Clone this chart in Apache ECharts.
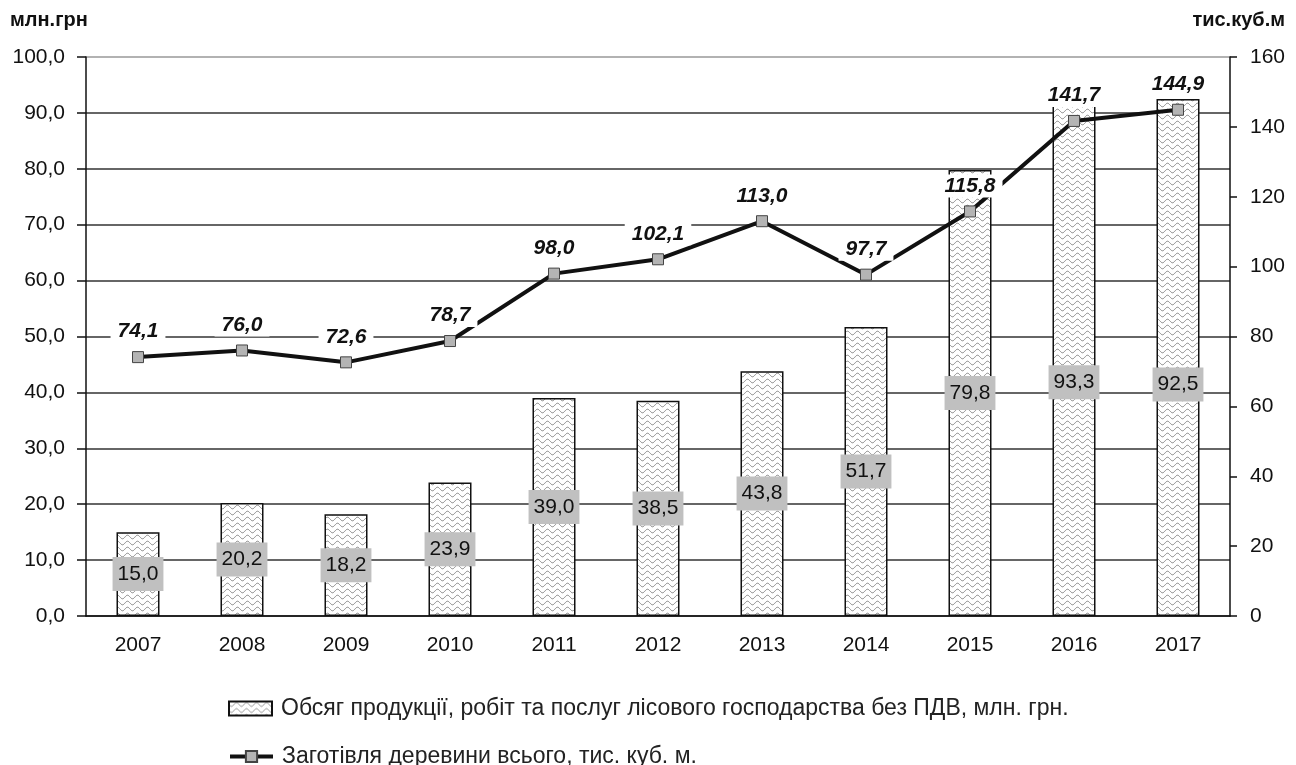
<!DOCTYPE html>
<html>
<head>
<meta charset="utf-8">
<title>Обсяг продукції та заготівля деревини</title>
<script src="https://cdn.jsdelivr.net/npm/echarts@6/dist/echarts.min.js"></script>
<style>
  html, body { margin: 0; padding: 0; background: #fff; }
  #chart { width: 1296px; height: 765px; }
</style>
</head>
<body>
<div id="chart"></div>
<script>
// роки
const years = ['2007', '2008', '2009', '2010', '2011', '2012', '2013', '2014', '2015', '2016', '2017'];
// обсяг продукції, млн. грн
const volume = [15.0, 20.2, 18.2, 23.9, 39.0, 38.5, 43.8, 51.7, 79.8, 93.3, 92.5];
// заготівля деревини, тис. куб. м
const timber = [74.1, 76.0, 72.6, 78.7, 98.0, 102.1, 113.0, 97.7, 115.8, 141.7, 144.9];

const volumeName = 'Обсяг продукції, робіт та послуг лісового господарства без ПДВ, млн. грн.';
const timberName = 'Заготівля деревини всього, тис. куб. м.';

const comma = (v, d) => v.toFixed(d).replace('.', ',');

// хвиляста штриховка для стовпців
function wavePattern() {
  const c = document.createElement('canvas');
  c.width = 10;
  c.height = 6;
  const ctx = c.getContext('2d');
  ctx.fillStyle = '#fff';
  ctx.fillRect(0, 0, 10, 6);
  ctx.strokeStyle = '#858585';
  ctx.lineWidth = 1;
  ctx.beginPath();
  for (let x = 0; x <= 10; x += 0.5) {
    const y = 3 + 1.8 * Math.sin((x / 10) * Math.PI * 2);
    if (x === 0) ctx.moveTo(x, y); else ctx.lineTo(x, y);
  }
  ctx.stroke();
  return c;
}
const pattern = { image: wavePattern(), repeat: 'repeat' };

const chart = echarts.init(document.getElementById('chart'));
const font = 'Liberation Sans, Arial, sans-serif';

// верхня лінія сітки світліша
const gridColors = ['#333', '#333', '#333', '#333', '#333', '#333', '#333', '#333', '#333', '#333', '#999'];

const legendBase = {
  left: 223,
  itemWidth: 43,
  itemHeight: 14,
  textStyle: { fontSize: 23, color: '#222', fontFamily: font, padding: [0, 0, 0, 4] }
};

const option = {
  backgroundColor: '#fff',
  animation: false,
  textStyle: { fontFamily: font },
  grid: { left: 86, right: 66, top: 57, bottom: 149 },
  graphic: [
    { type: 'text', left: 10, top: 10, style: { text: 'млн.грн', font: 'bold 20px ' + font, fill: '#111' } },
    { type: 'text', right: 11, top: 10, style: { text: 'тис.куб.м', font: 'bold 20px ' + font, fill: '#111' } }
  ],
  legend: [
    Object.assign({ top: 692, data: [{ name: volumeName, icon: 'rect' }] }, legendBase),
    Object.assign({ top: 740, lineStyle: { width: 4, color: '#111' }, data: [{ name: timberName }] }, legendBase)
  ],
  xAxis: {
    type: 'category',
    data: years,
    axisLine: { lineStyle: { color: '#111', width: 1.5 } },
    axisTick: { length: 6, lineStyle: { color: '#111', width: 1.5 } },
    axisLabel: { fontSize: 21, color: '#111', margin: 19 }
  },
  yAxis: [
    {
      type: 'value',
      min: 0,
      max: 100,
      interval: 10,
      axisLine: { show: true, lineStyle: { color: '#111', width: 1.5 } },
      axisTick: { show: true, length: 9, lineStyle: { color: '#111', width: 1.5 } },
      axisLabel: { fontSize: 21, color: '#111', margin: 21, formatter: v => comma(v, 1) },
      splitLine: { lineStyle: { color: gridColors, width: 1.5 } }
    },
    {
      type: 'value',
      min: 0,
      max: 160,
      interval: 20,
      position: 'right',
      axisLine: { show: true, lineStyle: { color: '#111', width: 1.5 } },
      axisTick: { show: true, length: 7, lineStyle: { color: '#111', width: 1.5 } },
      axisLabel: { fontSize: 21, color: '#111', margin: 20 },
      splitLine: { show: false }
    }
  ],
  series: [
    {
      name: volumeName,
      type: 'bar',
      yAxisIndex: 0,
      barWidth: 43,
      itemStyle: { color: pattern, borderColor: '#111', borderWidth: 1.5 },
      label: {
        show: true,
        position: 'inside',
        fontSize: 21,
        color: '#111',
        backgroundColor: '#c0c0c0',
        padding: [7, 5, 6, 5],
        formatter: p => comma(p.value, 1)
      },
      data: volume.map((v, i) => (i >= 9 ? { value: v, label: { offset: [0, 27] } } : v))
    },
    {
      name: timberName,
      type: 'line',
      yAxisIndex: 1,
      z: 5,
      symbol: 'rect',
      symbolSize: 11,
      lineStyle: { color: '#111', width: 4 },
      itemStyle: { color: '#b4b4b4', borderColor: '#444', borderWidth: 1 },
      label: {
        show: true,
        position: 'top',
        distance: 8,
        fontSize: 21,
        fontWeight: 'bold',
        fontStyle: 'italic',
        color: '#111',
        backgroundColor: '#fff',
        padding: [1, 7],
        formatter: p => comma(p.value, 1)
      },
      data: timber
    }
  ]
};

chart.setOption(option);
</script>
</body>
</html>
